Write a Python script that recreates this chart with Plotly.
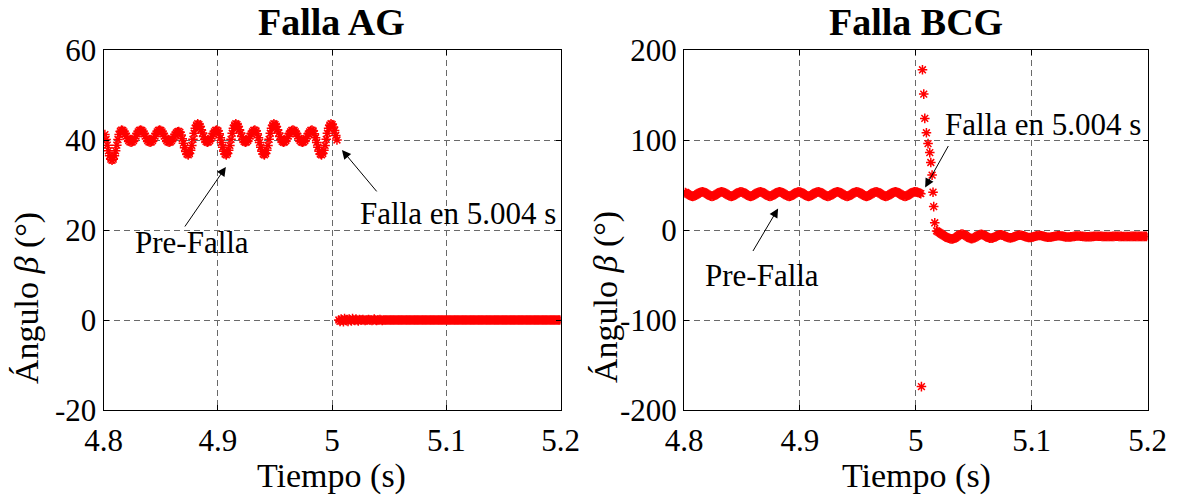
import numpy as np
import plotly.graph_objects as go

W, H = 1181, 501
FS = 960.0  # samples per second of the stored angle records

# ---------------- Falla AG ----------------
# pre-fault angle samples, taken every 1/FS s from AG_PRE_T0
AG_PRE_T0 = 4.80122
AG_PRE = [
    41.2, 40.1, 38.85, 37.6, 36.5, 35.75, 35.5,
    35.75, 36.5, 37.6, 38.85, 40.1, 41.2, 41.95, 42.2,
    42.1, 41.8, 41.37, 40.85, 40.33, 39.9, 39.6, 39.5,
    39.6, 39.9, 40.33, 40.85, 41.37, 41.8, 42.1, 42.2,
    42.1, 41.8, 41.37, 40.85, 40.33, 39.9, 39.6, 39.5,
    39.6, 39.9, 40.33, 40.85, 41.37, 41.8, 42.1, 42.2,
    42.1, 41.8, 41.37, 40.85, 40.33, 39.9, 39.6, 39.5,
    39.6, 39.85, 40.24, 40.7, 41.16, 41.55, 41.8, 41.9,
    41.7, 41.1, 40.3, 39.3, 38.3, 37.45, 36.9, 36.7,
    37.0, 37.7, 38.8, 40.15, 41.5, 42.6, 43.3, 43.6,
    43.4, 43.0, 42.3, 41.55, 40.8, 40.1, 39.7, 39.5,
    39.6, 39.9, 40.33, 40.85, 41.37, 41.8, 42.1, 42.2,
    42.0, 41.4, 40.5, 39.45, 38.4, 37.5, 36.9, 36.7,
    37.0, 37.7, 38.8, 40.15, 41.5, 42.6, 43.3, 43.6,
    43.4, 43.0, 42.3, 41.55, 40.8, 40.1, 39.7, 39.5,
    39.6, 39.9, 40.33, 40.85, 41.37, 41.8, 42.1, 42.2,
    42.0, 41.4, 40.5, 39.45, 38.4, 37.5, 36.9, 36.7,
    37.0, 37.7, 38.8, 40.15, 41.5, 42.6, 43.3, 43.6,
    43.4, 43.0, 42.3, 41.55, 40.8, 40.1, 39.7, 39.5,
    39.6, 39.9, 40.33, 40.85, 41.37, 41.8, 42.1, 42.2,
    42.1, 41.8, 41.37, 40.85, 40.33, 39.9, 39.6, 39.5,
    39.6, 39.9, 40.33, 40.85, 41.37, 41.8, 42.1, 42.2,
    42.0, 41.4, 40.5, 39.45, 38.4, 37.5, 36.9, 36.7,
    37.0, 37.7, 38.8, 40.15, 41.5, 42.6, 43.3, 43.6,
    43.4, 42.9, 42.1, 41.0, 40.0,
]
# post-fault samples (angle collapses to zero), every AG_POST_DT s
AG_POST_T0 = 5.006
AG_POST_DT = 0.001
AG_POST = [
    0.0, -0.3, 0.2, 0.0, -0.4, 0.3, 0.0, 0.1, -0.3, 0.2,
    0.0, -0.2, 0.3, 0.0, -0.1, 0.2, 0.0, -0.2, 0.1, 0.0,
    0.0, 0.1, 0.0, -0.1, 0.0, 0.0, 0.1, 0.0, 0.0, -0.1,
    0.0, 0.2, 0.0, -0.1, 0.0, 0.0, 0.1, 0.0, -0.1, 0.0,
    0.0, 0.0, 0.0, 0.0, 0.0, 0.0, 0.0, 0.0, 0.0, 0.0,
    0.0, 0.0, 0.0, 0.0, 0.0, 0.0, 0.0, 0.0, 0.0, 0.0,
    0.0, 0.0, 0.0, 0.0, 0.0, 0.0, 0.0, 0.0, 0.0, 0.0,
    0.0, 0.0, 0.0, 0.0, 0.0, 0.0, 0.0, 0.0, 0.0, 0.0,
    0.0, 0.0, 0.0, 0.0, 0.0, 0.0, 0.0, 0.0, 0.0, 0.0,
    0.0, 0.0, 0.0, 0.0, 0.0, 0.0, 0.0, 0.0, 0.0, 0.0,
    0.0, 0.0, 0.0, 0.0, 0.0, 0.0, 0.0, 0.0, 0.0, 0.0,
    0.0, 0.0, 0.0, 0.0, 0.0, 0.0, 0.0, 0.0, 0.0, 0.0,
    0.0, 0.0, 0.0, 0.0, 0.0, 0.0, 0.0, 0.0, 0.0, 0.0,
    0.0, 0.0, 0.0, 0.0, 0.0, 0.0, 0.0, 0.0, 0.0, 0.0,
    0.0, 0.0, 0.0, 0.0, 0.0, 0.0, 0.0, 0.0, 0.0, 0.0,
    0.0, 0.0, 0.0, 0.0, 0.0, 0.0, 0.0, 0.0, 0.0, 0.0,
    0.0, 0.0, 0.0, 0.0, 0.0, 0.0, 0.0, 0.0, 0.0, 0.0,
    0.0, 0.0, 0.0, 0.0, 0.0, 0.0, 0.0, 0.0, 0.0, 0.0,
    0.0, 0.0, 0.0, 0.0, 0.0, 0.0, 0.0, 0.0, 0.0, 0.0,
    0.0, 0.0, 0.0, 0.0, 0.0,
]

# ---------------- Falla BCG ----------------
BCG_PRE_T0 = 4.80122
BCG_PRE = [
    41.75, 40.9, 39.95, 39.0, 38.15, 37.6, 37.4,
    37.6, 38.15, 39.0, 39.95, 40.9, 41.75, 42.3, 42.5,
    42.3, 41.75, 40.9, 39.95, 39.0, 38.15, 37.6, 37.4,
    37.6, 38.15, 39.0, 39.95, 40.9, 41.75, 42.3, 42.5,
    42.3, 41.75, 40.9, 39.95, 39.0, 38.15, 37.6, 37.4,
    37.6, 38.15, 39.0, 39.95, 40.9, 41.75, 42.3, 42.5,
    42.3, 41.75, 40.9, 39.95, 39.0, 38.15, 37.6, 37.4,
    37.6, 38.15, 39.0, 39.95, 40.9, 41.75, 42.3, 42.5,
    42.3, 41.75, 40.9, 39.95, 39.0, 38.15, 37.6, 37.4,
    37.6, 38.15, 39.0, 39.95, 40.9, 41.75, 42.3, 42.5,
    42.3, 41.75, 40.9, 39.95, 39.0, 38.15, 37.6, 37.4,
    37.6, 38.15, 39.0, 39.95, 40.9, 41.75, 42.3, 42.5,
    42.3, 41.75, 40.9, 39.95, 39.0, 38.15, 37.6, 37.4,
    37.6, 38.15, 39.0, 39.95, 40.9, 41.75, 42.3, 42.5,
    42.3, 41.75, 40.9, 39.95, 39.0, 38.15, 37.6, 37.4,
    37.6, 38.15, 39.0, 39.95, 40.9, 41.75, 42.3, 42.5,
    42.3, 41.75, 40.9, 39.95, 39.0, 38.15, 37.6, 37.4,
    37.6, 38.15, 39.0, 39.95, 40.9, 41.75, 42.3, 42.5,
    42.3, 41.75, 40.9, 39.95, 39.0, 38.15, 37.6, 37.4,
    37.6, 38.15, 39.0, 39.95, 40.9, 41.75, 42.3, 42.5,
    42.3, 41.75, 40.9, 39.95, 39.0, 38.15, 37.6, 37.4,
    37.6, 38.15, 39.0, 39.95, 40.9, 41.75, 42.3, 42.5,
    42.3, 41.75, 40.9, 39.95, 39.0, 38.15, 37.6, 37.4,
    37.6, 38.15, 39.0, 39.95, 40.9, 41.75, 42.3, 42.5,
    42.4, 42.1, 41.6, 41.0, 40.4,
]
# transient just after the fault (angle wraps through +/-180)
BCG_TR_T = [5.0049, 5.0058, 5.0069, 5.0078, 5.0092, 5.0106,
            5.0121, 5.0130, 5.0141, 5.0149, 5.0155, 5.0164]
BCG_TR = [-174.0, 178.0, 151.0, 124.0, 108.0, 96.0,
          86.0, 75.0, 61.0, 42.0, 26.0, 8.0]
# post-fault settling, every 1/FS s from BCG_POST_T0
BCG_POST_T0 = 5.0180
BCG_POST = [
    -1.0, -1.8, -2.7, -3.6, -4.5, -5.4, -6.3, -7.1, -7.9, -8.6, -9.2, -9.6,
    -9.9, -10.0,
    -9.79, -9.2, -8.3, -7.25, -6.2, -5.3, -4.71, -4.5,
    -4.69, -5.24, -6.08, -7.05, -8.02, -8.86, -9.41, -9.6,
    -9.42, -8.91, -8.15, -7.25, -6.35, -5.59, -5.08, -4.9,
    -5.06, -5.53, -6.23, -7.05, -7.87, -8.57, -9.04, -9.2,
    -9.05, -8.63, -7.99, -7.25, -6.51, -5.87, -5.45, -5.3,
    -5.43, -5.81, -6.38, -7.05, -7.72, -8.29, -8.67, -8.8,
    -8.68, -8.35, -7.84, -7.25, -6.66, -6.15, -5.82, -5.7,
    -5.8, -6.09, -6.53, -7.05, -7.57, -8.01, -8.3, -8.4,
    -8.31, -8.06, -7.69, -7.25, -6.81, -6.44, -6.19, -6.1,
    -6.18, -6.39, -6.72, -7.1, -7.48, -7.81, -8.02, -8.1,
    -8.04, -7.85, -7.57, -7.25, -6.93, -6.65, -6.46, -6.4,
    -6.45, -6.6, -6.83, -7.1, -7.37, -7.6, -7.75, -7.8,
    -7.76, -7.64, -7.46, -7.25, -7.04, -6.86, -6.74, -6.7,
    -6.73, -6.82, -6.95, -7.1, -7.25, -7.38, -7.47, -7.5,
    -7.48, -7.41, -7.31, -7.2, -7.09, -6.99, -6.92, -6.9,
    -6.92, -6.96, -7.02, -7.1, -7.18, -7.24, -7.28, -7.3,
    -7.29, -7.26, -7.21, -7.15, -7.09, -7.04, -7.01, -7.0,
    -7.01, -7.03, -7.06, -7.1, -7.14, -7.17, -7.19, -7.2,
    -7.19, -7.18, -7.15, -7.12, -7.1, -7.07, -7.06, -7.05,
    -7.06, -7.08, -7.1, -7.12, -7.13, -7.13, -7.12, -7.1, -7.1,
]

X_TICKS = [4.8, 4.9, 5.0, 5.1, 5.2]
X_TICKTEXT = ["4.8", "4.9", "5", "5.1", "5.2"]
AG_YTICKS = [-20, 0, 20, 40, 60]
AG_YTEXT = ["-20", "0", "20", "40", "60"]
BCG_YTICKS = [-200, -100, 0, 100, 200]
BCG_YTEXT = ["-200", "-100", "0", "100", "200"]


def times(t0, n, dt):
    return t0 + np.arange(n) * dt


FONT = "Liberation Serif"
marker = dict(symbol="asterisk-open", size=8, color="red",
              line=dict(color="red", width=1.5))

fig = go.Figure()
ag_t = np.concatenate([times(AG_PRE_T0, len(AG_PRE), 1 / FS),
                       times(AG_POST_T0, len(AG_POST), AG_POST_DT)])
ag_v = np.array(AG_PRE + AG_POST)
fig.add_trace(go.Scatter(x=ag_t, y=ag_v, mode="markers", marker=marker,
                         xaxis="x", yaxis="y", showlegend=False,
                         cliponaxis=True))

bcg_t = np.concatenate([times(BCG_PRE_T0, len(BCG_PRE), 1 / FS),
                        np.array(BCG_TR_T),
                        times(BCG_POST_T0, len(BCG_POST), 1 / FS)])
bcg_v = np.array(BCG_PRE + BCG_TR + BCG_POST)
fig.add_trace(go.Scatter(x=bcg_t, y=bcg_v, mode="markers", marker=marker,
                         xaxis="x2", yaxis="y2", showlegend=False,
                         cliponaxis=True))

# plot boxes in pixels
L1, R1 = 103.5, 560.5
L2, R2 = 684, 1147.5
TOP, BOT = 50, 410


def px(x):
    return x / W


def py(y):
    return 1 - y / H


axis_common = dict(
    showline=True, linecolor="black", linewidth=1, mirror="ticks",
    ticks="inside", ticklen=5, tickcolor="black", tickwidth=1,
    showgrid=True, gridcolor="rgb(105,105,105)", gridwidth=1,
    griddash="6px,4px", zeroline=False, automargin=False,
    tickfont=dict(family=FONT, size=31, color="black"),
)

fig.update_layout(
    width=W, height=H, autosize=False,
    margin=dict(l=0, r=0, t=0, b=0, autoexpand=False),
    paper_bgcolor="white", plot_bgcolor="white",
    xaxis=dict(domain=[px(L1), px(R1)], range=[4.8, 5.2], tickvals=X_TICKS,
               ticktext=X_TICKTEXT, anchor="y", ticklabelstandoff=3,
               **axis_common),
    yaxis=dict(domain=[py(BOT), py(TOP)], range=[-20, 60], tickvals=AG_YTICKS,
               ticktext=AG_YTEXT, anchor="x", **axis_common),
    xaxis2=dict(domain=[px(L2), px(R2)], range=[4.8, 5.2], tickvals=X_TICKS,
                ticktext=X_TICKTEXT, anchor="y2", ticklabelstandoff=3,
                **axis_common),
    yaxis2=dict(domain=[py(BOT), py(TOP)], range=[-200, 200],
                tickvals=BCG_YTICKS, ticktext=BCG_YTEXT, anchor="x2",
                **axis_common),
)

ann = []


def label(text, x, y, size, angle=0):
    ann.append(dict(text=text, x=px(x), y=py(y), xref="paper", yref="paper",
                    xanchor="center", yanchor="middle", showarrow=False,
                    textangle=angle,
                    font=dict(family=FONT, size=size, color="black")))


# panel titles
label("<b>Falla AG</b>", 331, 22, 38)
label("<b>Falla BCG</b>", 916, 22, 38)
# axis titles
label("Tiempo (s)", 331, 476, 34)
label("Tiempo (s)", 916, 476, 34)
label("Ángulo <i>β</i> (°)", 27, 298, 34, angle=-90)
label("Ángulo <i>β</i> (°)", 606, 297, 34, angle=-90)
# notes
label("Pre-Falla", 192, 243, 31)
label("Falla en 5.004 s", 458, 213, 31)
label("Pre-Falla", 762, 275, 31)
label("Falla en 5.004 s", 1043, 125, 31)


def arrow(xr, yr, x, y, dx, dy):
    ann.append(dict(text="", x=x, y=y, xref=xr, yref=yr, ax=dx, ay=dy,
                    axref="pixel", ayref="pixel", showarrow=True,
                    arrowhead=2, arrowsize=1.8, arrowwidth=1,
                    arrowcolor="black", standoff=0, startstandoff=0))


arrow("x", "y", 4.9071, 34.0, -42, 61)
arrow("x", "y", 5.0087, 37.8, 36, 43)
arrow("x2", "y2", 4.8812, 23.9, -26, 44)
arrow("x2", "y2", 5.0081, 47.2, 24, -43)

fig.update_layout(annotations=ann)
fig.write_html("out.html")
